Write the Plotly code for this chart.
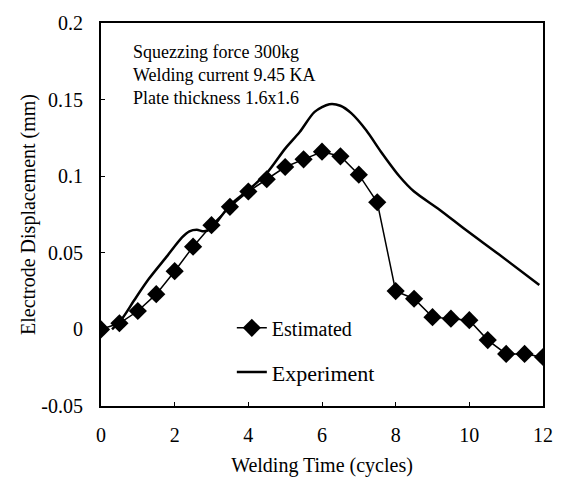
import plotly.graph_objects as go

# Estimated series
est_t = [0, 0.5, 1, 1.5, 2, 2.5, 3, 3.5, 4, 4.5, 5, 5.5, 6, 6.5, 7, 7.5,
         8, 8.5, 9, 9.5, 10, 10.5, 11, 11.5, 12]
est_d = [0.0, 0.004, 0.012, 0.023, 0.038, 0.054, 0.068, 0.080, 0.090, 0.098,
         0.106, 0.111, 0.116, 0.113, 0.101, 0.083, 0.025, 0.020, 0.008, 0.007,
         0.006, -0.007, -0.016, -0.016, -0.018]

# Experiment series
exp_t = [0.3, 0.6, 0.9, 1.3, 1.8, 2.2, 2.4, 2.6, 2.8, 3.0, 3.5, 4.0, 4.5,
         5.0, 5.4, 5.8, 6.2, 6.5, 6.8, 7.2, 7.6, 8.1, 8.5, 9.2, 9.9, 10.8, 11.9]
exp_d = [0.0, 0.008, 0.019, 0.033, 0.048, 0.060, 0.064, 0.065, 0.064, 0.066,
         0.081, 0.091, 0.102, 0.118, 0.129, 0.142, 0.147, 0.146, 0.141, 0.130,
         0.116, 0.100, 0.090, 0.078, 0.065, 0.049, 0.029]

x_ticks = [0, 2, 4, 6, 8, 10, 12]
y_ticks = [-0.05, 0, 0.05, 0.1, 0.15, 0.2]
y_tick_labels = ["-0.05", "0", "0.05", "0.1", "0.15", "0.2"]

conditions = ["Squezzing force 300kg", "Welding current 9.45 KA", "Plate thickness 1.6x1.6"]
condition_y = [0.925, 0.863, 0.804]

FONT = "Liberation Serif, Times New Roman, serif"

fig = go.Figure()
fig.add_trace(go.Scatter(
    x=est_t, y=est_d, name="Estimated", mode="lines+markers",
    line=dict(color="black", width=1.5),
    marker=dict(symbol="diamond", size=14, color="black"),
    legend="legend", showlegend=True,
))
fig.add_trace(go.Scatter(
    x=exp_t, y=exp_d, name="Experiment", mode="lines",
    line=dict(color="black", width=2.5, shape="spline", smoothing=0.8),
    legend="legend2", showlegend=True,
))

axis_common = dict(
    showline=True, linecolor="black", linewidth=2, mirror=True,
    ticks="inside", ticklen=4, tickcolor="black", showgrid=False, zeroline=False,
    tickfont=dict(family=FONT, size=20, color="black"),
)

fig.update_layout(
    width=565, height=489,
    margin=dict(l=101, r=20, t=19, b=83),
    paper_bgcolor="white", plot_bgcolor="white",
    font=dict(family=FONT, color="black"),
    showlegend=True,
    xaxis=dict(range=[0, 12], tickvals=x_ticks, ticklabelstandoff=10,
               title=dict(text="Welding Time (cycles)", font=dict(family=FONT, size=20), standoff=13),
               **axis_common),
    yaxis=dict(range=[-0.05, 0.2], tickvals=y_ticks, ticktext=y_tick_labels,
               ticklabelstandoff=12,
               title=dict(text="Electrode Displacement (mm)", font=dict(family=FONT, size=20), standoff=0),
               **axis_common),
    legend=dict(x=0.296, y=0.204, xanchor="left", yanchor="middle",
                bgcolor="rgba(0,0,0,0)", font=dict(family=FONT, size=20),
                itemwidth=30),
    legend2=dict(x=0.296, y=0.088, xanchor="left", yanchor="middle",
                 bgcolor="rgba(0,0,0,0)", font=dict(family=FONT, size=22),
                 itemwidth=30),
    annotations=[dict(
        xref="paper", yref="paper", x=0.068, y=yy, xanchor="left", yanchor="middle",
        align="left", showarrow=False, text=txt,
        font=dict(family=FONT, size=18, color="black"),
    ) for txt, yy in zip(conditions, condition_y)],
)

fig.write_html("out.html")
